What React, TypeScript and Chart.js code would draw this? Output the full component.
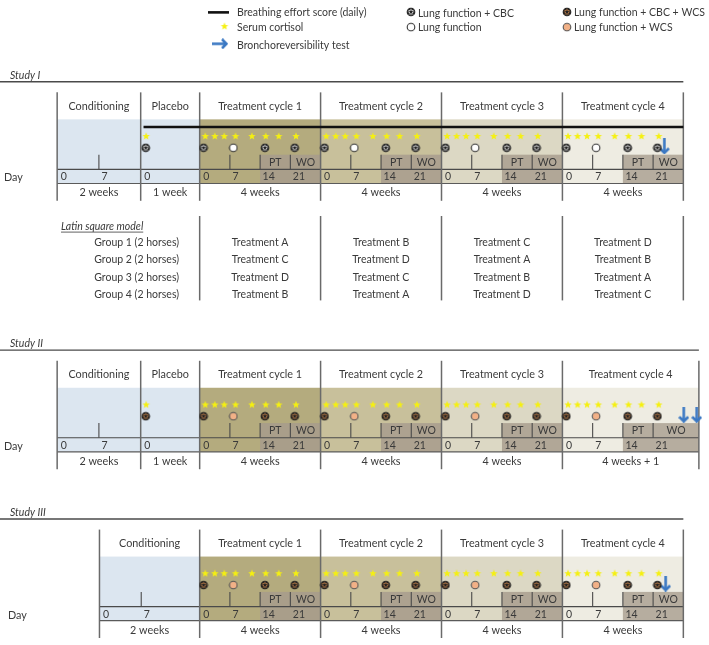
import React, { useEffect, useRef } from 'react';
import { Chart, registerables } from 'chart.js';
Chart.register(...registerables);

const W = 709;
const H = 645;

// ---------------- data ----------------
const cycleLabels = ['Treatment cycle 1', 'Treatment cycle 2', 'Treatment cycle 3', 'Treatment cycle 4'];
const cycleStartDays = [0, 28, 56, 84];
const cycleLength = 28;
const dayTicks = [0, 7, 14, 21];
const conditioningTicks = [0, 7];
const placeboTicks = [0];
const ptLabels = ['PT', 'WO'];
const ptStartDays = [14, 21];
const cortisolDays = [1.3, 3.5, 5.7, 8.3, 12.1, 15.3, 18.3, 22.3];
const visitDays = [0.9, 7.8, 15.1, 22.0];
const visitsStudyI = ['cbc', 'lf', 'cbc', 'cbc'];
const visitsStudyII = ['cbcw', 'wcs', 'cbcw', 'cbcw'];
const visitsStudyIII = ['cbcw', 'wcs', 'cbcw', 'cbcw'];
const placeboCortisolDay = 0.65;
const placeboVisitDay = 0.6;
const bronchoDaysI = [107.6];
const bronchoDaysII = [112.1, 115.1];
const bronchoDaysIII = [107.9];
const breathingSpan = [-13.0, 112];
const weeksStudyI = ['2 weeks', '1 week', '4 weeks', '4 weeks', '4 weeks', '4 weeks'];
const weeksStudyII = ['2 weeks', '1 week', '4 weeks', '4 weeks', '4 weeks', '4 weeks + 1'];
const weeksStudyIII = ['2 weeks', '4 weeks', '4 weeks', '4 weeks', '4 weeks'];
const studyNames = ['Study I', 'Study II', 'Study III'];
const groupLabels = ['Group 1 (2 horses)', 'Group 2 (2 horses)', 'Group 3 (2 horses)', 'Group 4 (2 horses)'];
const latinRow1 = ['Treatment A', 'Treatment B', 'Treatment C', 'Treatment D'];
const latinRow2 = ['Treatment C', 'Treatment D', 'Treatment A', 'Treatment B'];
const latinRow3 = ['Treatment D', 'Treatment C', 'Treatment B', 'Treatment A'];
const latinRow4 = ['Treatment B', 'Treatment A', 'Treatment D', 'Treatment C'];
const latinRows = [latinRow1, latinRow2, latinRow3, latinRow4];

// ---------------- layout & style ----------------
const PX_PER_DAY = 492 / 112;
const X_MIN = -197 / PX_PER_DAY;
const X_MAX = X_MIN + W / PX_PER_DAY;
const FONT = 'Lato, "Open Sans", sans-serif';
const TEXT = '#3a3a3a';
const BORDER = '#6a6a6a';
const BLUE = '#dce6f0';
const CYCLE_COLORS = ['#b4ab7e', '#c8c09b', '#dcd8c4', '#eeece2'];
const PT_COLORS = ['#a99e8a', '#ada290', '#b1a797', '#b6ad9f'];
const OFF = { title: 14.5, band: 27.5, line: 35.3, star: 44.5, visit: 56.5, tick: 63.5, dayline: 78.5, daybottom: 92.8, weeks: 102.5, bottom: 110.5, arrow: 55 };
const COND_UNIT = 1.381;
const PLAC_UNIT = 1.951;

type Seg = { label: string; start: number; end: number; unit: number; ticks: number[]; color: string; pt: string | null; weeks: string; cycle: boolean };

function buildSegments(placebo: boolean, condStart: number, lastEnd: number, weeks: string[]): Seg[] {
  const segs: Seg[] = [];
  const condEnd = placebo ? -7 * PLAC_UNIT : 0;
  segs.push({ label: 'Conditioning', start: condStart, end: condEnd, unit: COND_UNIT, ticks: conditioningTicks, color: BLUE, pt: null, weeks: weeks[0], cycle: false });
  if (placebo) segs.push({ label: 'Placebo', start: condEnd, end: 0, unit: PLAC_UNIT, ticks: placeboTicks, color: BLUE, pt: null, weeks: weeks[1], cycle: false });
  const off = placebo ? 2 : 1;
  cycleLabels.forEach((lab, i) => {
    const s = cycleStartDays[i];
    const e = i === cycleLabels.length - 1 ? lastEnd : s + cycleLength;
    segs.push({ label: lab, start: s, end: e, unit: 1, ticks: dayTicks, color: CYCLE_COLORS[i], pt: PT_COLORS[i], weeks: weeks[i + off], cycle: true });
  });
  return segs;
}

const STUDIES = [
  { name: studyNames[0], base: 88, ruleEnd: 112, dayX: 4, placebo: true, segs: buildSegments(true, -33.0, 112, weeksStudyI), visits: visitsStudyI, placeboVisit: 'cbc', broncho: bronchoDaysI, breathing: true },
  { name: studyNames[1], base: 361.5, ruleEnd: 115.6, dayX: 4, placebo: true, segs: buildSegments(true, -33.0, 115.6, weeksStudyII), visits: visitsStudyII, placeboVisit: 'cbcw', broncho: bronchoDaysII, breathing: false },
  { name: studyNames[2], base: 533.5, ruleEnd: 112, dayX: 8, placebo: false, segs: buildSegments(false, -23.2, 112, weeksStudyIII), visits: visitsStudyIII, placeboVisit: null, broncho: bronchoDaysIII, breathing: false },
];

// ---------------- icons ----------------
function mk(w: number, h: number, draw: (g: CanvasRenderingContext2D) => void) {
  const c = document.createElement('canvas');
  c.width = w; c.height = h;
  draw(c.getContext('2d') as CanvasRenderingContext2D);
  return c;
}
function starIcon() {
  return mk(10, 10, (g) => {
    g.beginPath();
    for (let i = 0; i < 10; i++) {
      const r = i % 2 === 0 ? 4.0 : 1.7;
      const a = -Math.PI / 2 + (i * Math.PI) / 5;
      const x = 5 + r * Math.cos(a), y = 5.3 + r * Math.sin(a);
      if (i === 0) g.moveTo(x, y); else g.lineTo(x, y);
    }
    g.closePath();
    g.fillStyle = '#f5f010';
    g.fill();
  });
}
function ballIcon(fill: string) {
  return mk(10, 10, (g) => {
    const cx = 5, cy = 5, r = 3.8;
    g.save();
    g.beginPath(); g.arc(cx, cy, r, 0, Math.PI * 2); g.fillStyle = fill; g.fill();
    g.clip();
    g.fillStyle = '#222222';
    g.beginPath();
    for (let i = 0; i < 5; i++) {
      const a = -Math.PI / 2 + (i * 2 * Math.PI) / 5;
      const x = cx + 1.6 * Math.cos(a), y = cy + 1.6 * Math.sin(a);
      if (i === 0) g.moveTo(x, y); else g.lineTo(x, y);
    }
    g.closePath(); g.fill();
    for (let i = 0; i < 5; i++) {
      const a = -Math.PI / 2 + Math.PI / 5 + (i * 2 * Math.PI) / 5;
      g.beginPath(); g.arc(cx + 3.9 * Math.cos(a), cy + 3.9 * Math.sin(a), 1.7, 0, Math.PI * 2); g.fill();
      const b = -Math.PI / 2 + (i * 2 * Math.PI) / 5;
      g.beginPath(); g.moveTo(cx + 1.3 * Math.cos(b), cy + 1.3 * Math.sin(b)); g.lineTo(cx + 3.8 * Math.cos(b), cy + 3.8 * Math.sin(b));
      g.strokeStyle = '#222222'; g.lineWidth = 0.9; g.stroke();
    }
    g.restore();
    g.beginPath(); g.arc(cx, cy, r, 0, Math.PI * 2); g.strokeStyle = '#222222'; g.lineWidth = 1.1; g.stroke();
  });
}
function ringIcon(fill: string, stroke: string) {
  return mk(10, 10, (g) => {
    g.beginPath(); g.arc(5, 5, 3.8, 0, Math.PI * 2);
    g.fillStyle = fill; g.fill();
    g.strokeStyle = stroke; g.lineWidth = 1.1; g.stroke();
  });
}
function arrowDown() {
  return mk(11, 16, (g) => {
    g.strokeStyle = '#3b78c3'; g.lineWidth = 2.6; g.lineJoin = 'miter'; g.lineCap = 'butt';
    g.beginPath(); g.moveTo(5.5, 0); g.lineTo(5.5, 14.5); g.stroke();
    g.beginPath(); g.moveTo(1, 10); g.lineTo(5.5, 14.5); g.lineTo(10, 10); g.stroke();
  });
}
function arrowRight() {
  return mk(16, 11, (g) => {
    g.strokeStyle = '#3b78c3'; g.lineWidth = 2.6; g.lineJoin = 'miter'; g.lineCap = 'butt';
    g.beginPath(); g.moveTo(0, 5.5); g.lineTo(14.5, 5.5); g.stroke();
    g.beginPath(); g.moveTo(10, 1); g.lineTo(14.5, 5.5); g.lineTo(10, 10); g.stroke();
  });
}

function text(ctx: CanvasRenderingContext2D, s: string, x: number, y: number, o: any = {}) {
  const size = o.size ?? 10.5;
  ctx.save();
  ctx.font = `${o.italic ? 'italic ' : ''}${size}px ${FONT}`;
  ctx.fillStyle = o.color ?? TEXT;
  ctx.textAlign = o.align ?? 'left';
  ctx.textBaseline = 'middle';
  ctx.fillText(s, x, y);
  if (o.underline) {
    const w = ctx.measureText(s).width;
    const x0 = o.align === 'center' ? x - w / 2 : o.align === 'right' ? x - w : x;
    ctx.strokeStyle = o.color ?? TEXT; ctx.lineWidth = 0.8;
    ctx.beginPath(); ctx.moveTo(x0, y + size * 0.55); ctx.lineTo(x0 + w, y + size * 0.55); ctx.stroke();
  }
  ctx.restore();
}
function line(ctx: CanvasRenderingContext2D, x1: number, y1: number, x2: number, y2: number, color: string, w: number) {
  ctx.save(); ctx.strokeStyle = color; ctx.lineWidth = w;
  ctx.beginPath(); ctx.moveTo(x1, y1); ctx.lineTo(x2, y2); ctx.stroke(); ctx.restore();
}

export default function App() {
  const ref = useRef<HTMLCanvasElement | null>(null);
  useEffect(() => {
    const icons: Record<string, HTMLCanvasElement> = {
      star: starIcon(),
      cbc: ballIcon('#f2f2f2'),
      cbcw: ballIcon('#c9854c'),
      lf: ringIcon('#ffffff', '#333333'),
      wcs: ringIcon('#f2b187', '#555555'),
      down: arrowDown(),
      right: arrowRight(),
    };

    const datasets: any[] = [];
    STUDIES.forEach((st) => {
      const starPts: any[] = [];
      if (st.placebo) starPts.push({ x: -7 * PLAC_UNIT + placeboCortisolDay * PLAC_UNIT, y: st.base + OFF.star });
      cycleStartDays.forEach((c) => cortisolDays.forEach((d) => starPts.push({ x: c + d, y: st.base + OFF.star })));
      datasets.push({ data: starPts, pointStyle: icons.star, pointRadius: 4, clip: false });

      const visitPts: any[] = [];
      const visitStyles: any[] = [];
      if (st.placeboVisit) {
        visitPts.push({ x: -7 * PLAC_UNIT + placeboVisitDay * PLAC_UNIT, y: st.base + OFF.visit });
        visitStyles.push(icons[st.placeboVisit]);
      }
      cycleStartDays.forEach((c) => visitDays.forEach((d, k) => {
        visitPts.push({ x: c + d, y: st.base + OFF.visit });
        visitStyles.push(icons[st.visits[k]]);
      }));
      datasets.push({ data: visitPts, pointStyle: visitStyles, pointRadius: 4, clip: false });

      datasets.push({ data: st.broncho.map((d) => ({ x: d, y: st.base + OFF.arrow })), pointStyle: icons.down, pointRadius: 5, clip: false });

      if (st.breathing) {
        datasets.push({
          data: breathingSpan.map((d) => ({ x: d, y: st.base + OFF.line })),
          showLine: true, borderColor: '#111111', borderWidth: 2.3, pointRadius: 0, clip: false,
        });
      }
    });

    const backdrop = {
      id: 'backdrop',
      beforeDatasetsDraw(chart: any) {
        const ctx: CanvasRenderingContext2D = chart.ctx;
        const X = (v: number) => chart.scales.x.getPixelForValue(v);
        const Y = (v: number) => chart.scales.y.getPixelForValue(v);
        ctx.save();
        ctx.fillStyle = '#ffffff';
        ctx.fillRect(0, 0, W, H);

        // legend
        line(ctx, 208, Y(6.5), 229, Y(6.5), '#111111', 2.6);
        text(ctx, 'Breathing effort score (daily)', 237, Y(7));
        ctx.drawImage(icons.star, 219.5, Y(20.5) - 5);
        text(ctx, 'Serum cortisol', 237, Y(22));
        ctx.drawImage(icons.right, 212, Y(38.5) - 5.5);
        text(ctx, 'Bronchoreversibility test', 237, Y(40));
        ctx.drawImage(icons.cbc, 406, Y(6) - 5);
        text(ctx, 'Lung function + CBC', 418, Y(7.5));
        ctx.drawImage(icons.lf, 406, Y(21.5) - 5);
        text(ctx, 'Lung function', 418, Y(22));
        ctx.drawImage(icons.cbcw, 562, Y(6) - 5);
        text(ctx, 'Lung function + CBC + WCS', 574, Y(7));
        ctx.drawImage(icons.wcs, 562, Y(21.5) - 5);
        text(ctx, 'Lung function + WCS', 574, Y(22));

        STUDIES.forEach((st) => {
          const b = st.base;
          const segs = st.segs;
          const first = segs[0].start;
          const last = segs[segs.length - 1].end;
          // header
          text(ctx, st.name, 10, Y(b - 17.5), { italic: true });
          line(ctx, 0, Y(b - 10.8), X(st.ruleEnd), Y(b - 10.8), '#4a4a4a', 1.3);
          // fills
          segs.forEach((s) => {
            ctx.fillStyle = s.color;
            ctx.fillRect(X(s.start), Y(b + OFF.band), X(s.end) - X(s.start), Y(b + OFF.daybottom) - Y(b + OFF.band));
            if (s.pt) {
              ctx.fillStyle = s.pt;
              const px = X(s.start + ptStartDays[0] * s.unit);
              ctx.fillRect(px, Y(b + OFF.tick), X(s.end) - px, Y(b + OFF.daybottom) - Y(b + OFF.tick));
            }
          });
          // day row lines
          line(ctx, X(first), Y(b + OFF.dayline), X(last), Y(b + OFF.dayline), '#4a4a4a', 1.1);
          line(ctx, X(first), Y(b + OFF.daybottom), X(last), Y(b + OFF.daybottom), '#5a5a5a', 1.1);
          segs.forEach((s) => {
            s.ticks.forEach((d) => {
              const px = X(s.start + d * s.unit);
              if (d > 0) line(ctx, px, Y(b + OFF.tick), px, Y(b + OFF.dayline), '#4a4a4a', 1.1);
              text(ctx, String(d), px + (d === 0 ? 3.5 : 2.5), Y((2 * b + OFF.dayline + OFF.daybottom) / 2 + 0.5), { size: 10.5 });
            });
            if (s.pt) {
              ptLabels.forEach((lab, k) => {
                const a = s.start + ptStartDays[k];
                const e = k + 1 < ptStartDays.length ? s.start + ptStartDays[k + 1] : s.end;
                text(ctx, lab, (X(a) + X(e)) / 2, Y(b + OFF.tick + 7.8), { align: 'center' });
              });
            }
            text(ctx, s.label, (X(s.start) + X(s.end)) / 2, Y(b + OFF.title), { align: 'center', size: 10.8 });
            text(ctx, s.weeks, (X(s.start) + X(s.end)) / 2, Y(b + OFF.weeks), { align: 'center', size: 10.8 });
          });
          // borders
          const edges = segs.map((s) => s.start).concat([last]);
          edges.forEach((e) => line(ctx, X(e), Y(b), X(e), Y(b + OFF.bottom), BORDER, 1.5));
          text(ctx, 'Day', st.dayX, Y((2 * b + OFF.dayline + OFF.daybottom) / 2 + 1.5), { size: 10.8 });
        });

        // Latin square model
        text(ctx, 'Latin square model', 61, Y(224.5), { italic: true, underline: true });
        cycleStartDays.concat([cycleStartDays[3] + cycleLength]).forEach((d) => line(ctx, X(d), Y(214), X(d), Y(300), BORDER, 1.5));
        const rowY = [241, 258.8, 276.5, 294];
        groupLabels.forEach((g, r) => {
          text(ctx, g, 179, Y(rowY[r]), { align: 'right' });
          latinRows[r].forEach((t, c) => text(ctx, t, X(cycleStartDays[c] + cycleLength / 2), Y(rowY[r]), { align: 'center' }));
        });
        ctx.restore();
      },
    };

    const chart = new Chart(ref.current as HTMLCanvasElement, {
      type: 'scatter',
      data: { datasets },
      options: {
        animation: false,
        responsive: false,
        maintainAspectRatio: false,
        devicePixelRatio: 1,
        layout: { padding: 0 },
        plugins: { legend: { display: false }, tooltip: { enabled: false } },
        events: [],
        scales: {
          x: { type: 'linear', min: X_MIN, max: X_MAX, display: false },
          y: { type: 'linear', min: 0, max: H, reverse: true, display: false },
        },
      },
      plugins: [backdrop],
    } as any);
    return () => chart.destroy();
  }, []);

  return (
    <div style={{ position: 'absolute', left: 0, top: 0, width: W, height: H, background: '#fff' }}>
      <canvas ref={ref} width={W} height={H} style={{ display: 'block' }} />
    </div>
  );
}
